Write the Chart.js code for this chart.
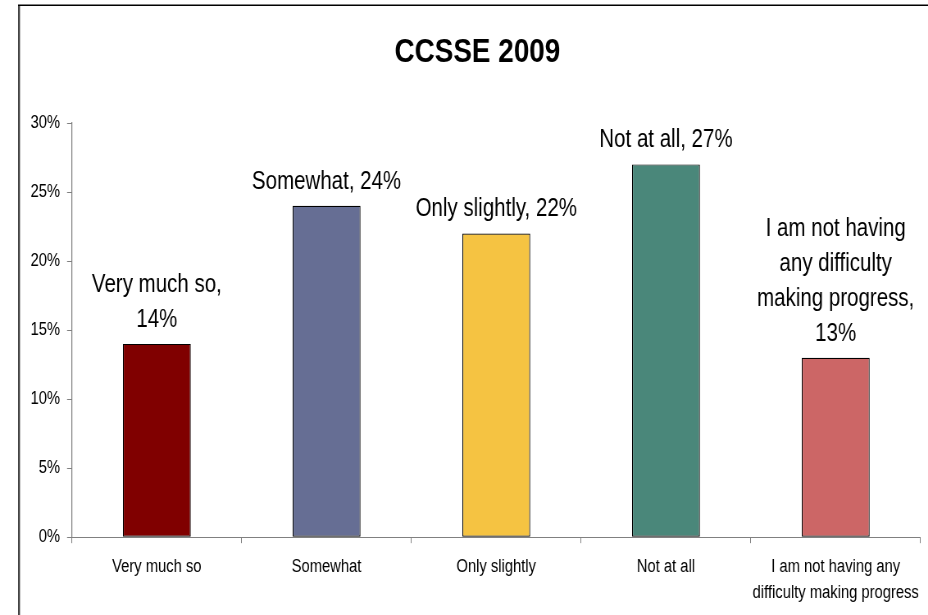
<!DOCTYPE html>
<html>
<head>
<meta charset="utf-8">
<script src="https://cdn.jsdelivr.net/npm/chart.js@4"></script>
<style>
  html, body { margin: 0; padding: 0; background: #fff; overflow: hidden; }
  #wrap { position: relative; width: 928px; height: 615px; overflow: hidden; }
  /* The reference chart is horizontally condensed (narrow type); render wide, then condense. */
  #c { position: absolute; left: 0; top: 0; transform: scaleX(0.8198); transform-origin: 0 0; }
</style>
</head>
<body>
<div id="wrap"><canvas id="c" width="1132" height="615"></canvas></div>
<script>
const title = 'CCSSE 2009';
const categories = ['Very much so', 'Somewhat', 'Only slightly', 'Not at all', 'I am not having any difficulty making progress'];
const values = [14, 24, 22, 27, 13];
const barColors = ['#800000', '#666E94', '#F5C342', '#4A877A', '#CC6666'];
const yTicks = [0, 5, 10, 15, 20, 25, 30];

const FONT = '"Liberation Sans", Arial, sans-serif';

const measureCtx = document.createElement('canvas').getContext('2d');
function wrapText(ctx, text, maxWidth) {
  const words = text.split(' ');
  const lines = [];
  let cur = '';
  for (const w of words) {
    const test = cur ? cur + ' ' + w : w;
    if (cur && ctx.measureText(test).width > maxWidth) {
      lines.push(cur);
      cur = w;
    } else {
      cur = test;
    }
  }
  if (cur) lines.push(cur);
  return lines;
}

const framePlugin = {
  id: 'frame',
  beforeDraw(chart) {
    const ctx = chart.ctx;
    ctx.save();
    ctx.fillStyle = '#fff';
    ctx.fillRect(0, 0, chart.width, chart.height);
    ctx.fillStyle = '#444';
    ctx.fillRect(22, 5, 2.4, chart.height - 5);
    ctx.fillStyle = '#000';
    ctx.fillRect(22, 4.5, chart.width - 22, 1.5);
    ctx.restore();
  }
};

const labelPlugin = {
  id: 'barLabels',
  afterDatasetsDraw(chart) {
    const ctx = chart.ctx;
    const meta = chart.getDatasetMeta(0);
    const xs = chart.scales.x;
    const catW = xs.width / categories.length;
    ctx.save();
    ctx.font = '25px ' + FONT;
    ctx.fillStyle = '#000';
    ctx.textAlign = 'center';
    ctx.textBaseline = 'alphabetic';
    meta.data.forEach((bar, i) => {
      const text = categories[i] + ', ' + values[i] + '%';
      const lines = wrapText(ctx, text, catW);
      const lh = 35;
      const lastBase = bar.y - 17;
      lines.forEach((ln, k) => {
        ctx.fillText(ln, bar.x, lastBase - (lines.length - 1 - k) * lh);
      });
    });
    ctx.restore();
  }
};

new Chart(document.getElementById('c'), {
  type: 'bar',
  data: {
    labels: categories,
    datasets: [{
      data: values,
      backgroundColor: barColors,
      borderColor: '#000',
      borderWidth: 1.2,
      borderSkipped: false,
      barPercentage: 0.4,
      categoryPercentage: 1.0
    }]
  },
  options: {
    responsive: false,
    animation: false,
    devicePixelRatio: 1,
    layout: { padding: { left: 35, right: 2.5, top: 0, bottom: -2 } },
    plugins: {
      legend: { display: false },
      tooltip: { enabled: false },
      title: {
        display: true,
        text: title,
        color: '#000',
        font: { family: FONT, size: 34, weight: 'bold', lineHeight: 1 },
        padding: { top: 36, bottom: 53 }
      }
    },
    scales: {
      x: {
        grid: { display: true, drawOnChartArea: false, drawTicks: true, tickLength: 6, color: '#808080', offset: true },
        border: { display: true, color: '#808080', width: 1 },
        ticks: {
          color: '#000',
          padding: 11,
          maxRotation: 0,
          autoSkip: false,
          font: { family: FONT, size: 18, lineHeight: 1.44 },
          callback: function(v, i) {
            measureCtx.font = '18px ' + FONT;
            return wrapText(measureCtx, categories[i], 208);
          }
        }
      },
      y: {
        min: 0,
        max: 30,
        afterBuildTicks(axis) { axis.ticks = yTicks.map(v => ({ value: v })); },
        afterFit(axis) { axis.width = 52.8; },
        grid: { display: true, drawOnChartArea: false, drawTicks: true, tickLength: 6, color: '#808080' },
        border: { display: true, color: '#808080', width: 1.2 },
        ticks: {
          color: '#000',
          padding: 8.5,
          font: { family: FONT, size: 18 },
          callback: v => v + '%'
        }
      }
    }
  },
  plugins: [framePlugin, labelPlugin]
});
</script>
</body>
</html>
